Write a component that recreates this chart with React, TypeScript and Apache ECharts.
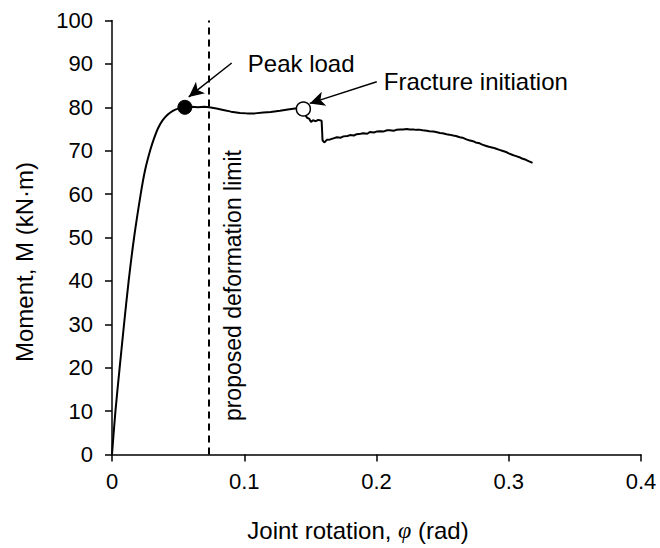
import React, { useEffect, useRef } from "react";
import * as echarts from "echarts";

// Joint rotation (rad) and moment (kN·m)
// Elastic-plastic rise up to the peak
const riseRotation = [0, 0.0026, 0.0058, 0.0091, 0.0126, 0.0167, 0.0217, 0.0250, 0.0290, 0.0320, 0.0350, 0.0385, 0.0424, 0.0460, 0.0500, 0.0551];
const riseMoment = [0, 10, 20, 30, 40, 50, 60, 65.5, 70.2, 73.0, 75.3, 77.1, 78.4, 79.2, 79.7, 80.0];

// Plateau, fracture and post-fracture branch
const rotation = [
  0.0551, 0.0600, 0.0650, 0.0700, 0.0735, 0.0790, 0.0841, 0.0900, 0.0967, 0.1020, 0.1080, 0.1144, 0.1200, 0.1270, 0.1330, 0.1397, 0.1447,
  0.1462, 0.1475, 0.1490, 0.1505, 0.1520, 0.1540, 0.1560, 0.1585, 0.1592, 0.1605, 0.1625, 0.1650, 0.1680, 0.1700, 0.1730, 0.1750,
  0.1780, 0.1800, 0.1830, 0.1850, 0.1880, 0.1900, 0.1930, 0.1950, 0.1980, 0.2000, 0.2030, 0.2050, 0.2080, 0.2100, 0.2130, 0.2150,
  0.2180, 0.2200, 0.2230, 0.2250, 0.2280, 0.2300, 0.2330, 0.2350, 0.2380, 0.2400, 0.2430, 0.2450, 0.2480, 0.2500, 0.2530, 0.2550,
  0.2580, 0.2600, 0.2630, 0.2650, 0.2680, 0.2700, 0.2730, 0.2750, 0.2780, 0.2800, 0.2830, 0.2850, 0.2880, 0.2900, 0.2930, 0.2950,
  0.2980, 0.3000, 0.3030, 0.3050, 0.3080, 0.3100, 0.3130, 0.3150, 0.3180,
];
const moment = [
  80.0, 80.1, 80.0, 80.1, 80.0, 79.7, 79.4, 79.0, 78.7, 78.6, 78.6, 78.8, 78.9, 79.2, 79.5, 79.8, 79.6,
  78.2, 77.6, 77.4, 76.6, 77.0, 76.8, 77.1, 76.9, 72.4, 71.9, 72.5, 72.6, 72.9, 73.1, 73.0, 73.3,
  73.4, 73.6, 73.5, 73.8, 73.9, 74.0, 73.9, 74.3, 74.2, 74.4, 74.5, 74.4, 74.7, 74.7, 74.6, 74.8,
  74.9, 74.9, 75.0, 74.9, 74.9, 74.8, 74.8, 74.7, 74.6, 74.5, 74.4, 74.3, 74.1, 74.0, 73.8, 73.7,
  73.5, 73.4, 73.1, 73.0, 72.6, 72.4, 72.2, 71.9, 71.7, 71.4, 71.1, 70.9, 70.7, 70.5, 70.2, 70.0,
  69.7, 69.4, 69.0, 68.8, 68.5, 68.2, 67.9, 67.6, 67.2,
];

const peakPoint = [0.0551, 80.0];
const fracturePoint = [0.1447, 79.6];
const deformationLimit = 0.0735;

const xTicks = { min: 0, max: 0.4, interval: 0.1 };
const yTicks = { min: 0, max: 100, interval: 10 };

const peakArrow = [[0.0905, 90.2], [0.058, 82.4]];
const fractureArrow = [[0.2002, 85.9], [0.1495, 80.9]];
const peakLabelAt = [0.1027, 90.2];
const fractureLabelAt = [0.2055, 85.9];
const limitLabelAt = [0.0912, 7.7];

const FONT = "'Liberation Sans', Arial, sans-serif";

export default function App() {
  const ref = useRef<HTMLDivElement>(null);
  useEffect(() => {
    if (!ref.current) return;
    const chart = echarts.init(ref.current, null, { renderer: "svg" });
    const rise = riseRotation.map((r, i) => [r, riseMoment[i]]);
    const data = rotation.map((r, i) => [r, moment[i]]);
    chart.setOption({
      animation: false,
      backgroundColor: "#fff",
      grid: { left: 112, right: 19, top: 20.5, bottom: 93.5, containLabel: false },
      xAxis: {
        type: "value",
        min: xTicks.min,
        max: xTicks.max,
        interval: xTicks.interval,
        axisLine: { show: true, lineStyle: { color: "#000", width: 1.5 } },
        axisTick: { show: true, inside: false, length: 7, lineStyle: { color: "#000", width: 1.5 } },
        axisLabel: { color: "#000", fontSize: 22, fontFamily: FONT, margin: 16 },
        splitLine: { show: false },
      },
      yAxis: {
        type: "value",
        min: yTicks.min,
        max: yTicks.max,
        interval: yTicks.interval,
        axisLine: { show: true, lineStyle: { color: "#000", width: 1.5 } },
        axisTick: { show: true, inside: false, length: 7, lineStyle: { color: "#000", width: 1.5 } },
        axisLabel: { color: "#000", fontSize: 22, fontFamily: FONT, margin: 19 },
        splitLine: { show: false },
      },
      series: [
        {
          type: "line",
          data: rise,
          showSymbol: false,
          symbol: "none",
          smooth: 0.3,
          lineStyle: { color: "#000", width: 2 },
          z: 2,
        },
        {
          type: "line",
          data,
          showSymbol: false,
          symbol: "none",
          lineStyle: { color: "#000", width: 2 },
          z: 2,
          markLine: {
            silent: true,
            symbol: ["none", "none"],
            label: { show: false },
            lineStyle: { color: "#000", width: 2, type: [7, 5] },
            data: [[{ coord: [deformationLimit, yTicks.min] }, { coord: [deformationLimit, yTicks.max] }]],
          },
        },
        {
          type: "line",
          data: [],
          showSymbol: false,
          symbol: "none",
          markLine: {
            silent: true,
            symbol: ["none", "arrow"],
            symbolSize: [11, 15],
            label: { show: false },
            lineStyle: { color: "#000", width: 1.5, type: "solid" },
            data: [
              [{ coord: peakArrow[0] }, { coord: peakArrow[1] }],
              [{ coord: fractureArrow[0] }, { coord: fractureArrow[1] }],
            ],
          },
          z: 3,
        },
        {
          type: "scatter",
          data: [peakPoint],
          symbol: "circle",
          symbolSize: 14,
          itemStyle: { color: "#000", borderColor: "#000", borderWidth: 1, opacity: 1 },
          z: 5,
        },
        {
          type: "scatter",
          data: [fracturePoint],
          symbol: "circle",
          symbolSize: 14,
          itemStyle: { color: "#fff", borderColor: "#000", borderWidth: 1.5, opacity: 1 },
          z: 5,
        },
      ],
    });
    const px = (p: number[]) => chart.convertToPixel({ gridIndex: 0 }, p) as number[];
    const pk = px(peakLabelAt);
    const fr = px(fractureLabelAt);
    const lm = px(limitLabelAt);
    chart.setOption({
      graphic: [
        {
          type: "text",
          x: pk[0],
          y: pk[1],
          style: { text: "Peak load", fontSize: 24, fontFamily: FONT, fill: "#000", align: "left", verticalAlign: "middle" },
        },
        {
          type: "text",
          x: fr[0],
          y: fr[1],
          style: { text: "Fracture initiation", fontSize: 24, fontFamily: FONT, fill: "#000", align: "left", verticalAlign: "middle" },
        },
        {
          type: "text",
          x: lm[0],
          y: lm[1],
          rotation: Math.PI / 2,
          style: { text: "proposed deformation limit", fontSize: 23, fontFamily: FONT, fill: "#000", align: "left", verticalAlign: "middle" },
        },
        {
          type: "text",
          x: 24,
          y: 262,
          rotation: Math.PI / 2,
          style: { text: "Moment, M (kN·m)", fontSize: 24, fontFamily: FONT, fill: "#000", align: "center", verticalAlign: "middle" },
        },
        {
          type: "text",
          x: 358,
          y: 530,
          style: {
            text: "Joint rotation, {i|φ} (rad)",
            fontSize: 24,
            fontFamily: FONT,
            fill: "#000",
            align: "center",
            verticalAlign: "middle",
            rich: { i: { fontStyle: "italic", fontFamily: "'Liberation Serif', serif", fontSize: 24, fill: "#000" } },
          },
        },
      ],
    });
    return () => chart.dispose();
  }, []);
  return <div ref={ref} style={{ position: "fixed", left: 0, top: 0, width: 660, height: 548 }} />;
}
